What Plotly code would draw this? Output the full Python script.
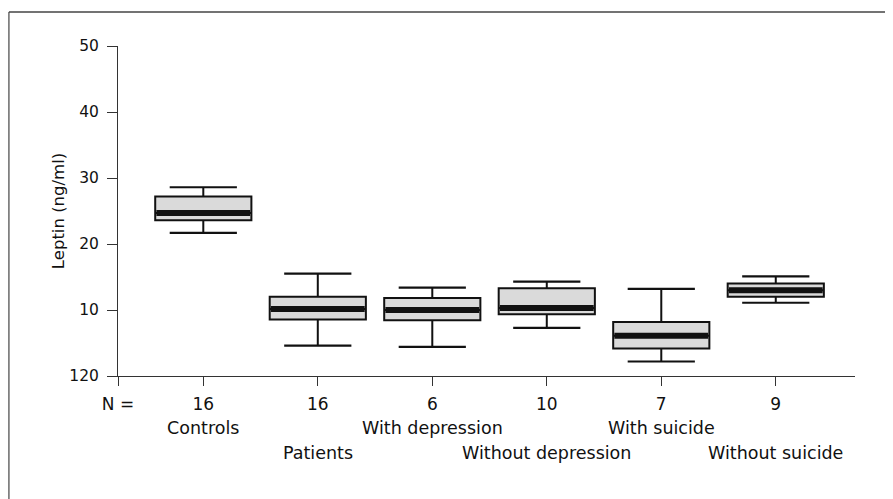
import plotly.graph_objects as go

# ---- data ----
categories = ["Controls", "Patients", "With depression", "Without depression", "With suicide", "Without suicide"]
n_values = ["16", "16", "6", "10", "7", "9"]
upper_whisker = [28.6, 15.5, 13.4, 14.3, 13.2, 15.1]
q3_values = [27.2, 12.0, 11.8, 13.3, 8.2, 14.0]
median_values = [24.7, 10.15, 10.0, 10.3, 6.1, 13.0]
q1_values = [23.6, 8.55, 8.45, 9.35, 4.15, 12.0]
lower_whisker = [21.7, 4.6, 4.4, 7.3, 2.2, 11.1]
y_tick_values = [0, 10, 20, 30, 40, 50]
y_tick_labels = ["120", "10", "20", "30", "40", "50"]

positions = list(range(len(categories)))
font_family = "DejaVu Sans"
ink = "#111111"

fig = go.Figure()

fig.add_trace(go.Box(
    x=positions,
    q1=q1_values, median=median_values, q3=q3_values,
    lowerfence=lower_whisker, upperfence=upper_whisker,
    width=0.84,
    fillcolor="#dadada",
    line=dict(color=ink, width=2),
    whiskerwidth=0,
    boxpoints=False,
    hoverinfo="skip",
    showlegend=False,
))

# whisker caps (line-ew marker length = 1.4 * size)
for vals in (upper_whisker, lower_whisker):
    fig.add_trace(go.Scatter(
        x=positions, y=vals, mode="markers",
        marker=dict(symbol="line-ew", size=48, line=dict(color=ink, width=2.2)),
        hoverinfo="skip", showlegend=False,
    ))

# thick median bands
fig.add_trace(go.Scatter(
    x=positions, y=median_values, mode="markers",
    marker=dict(symbol="line-ew", size=67, line=dict(color=ink, width=6)),
    hoverinfo="skip", showlegend=False,
))

x_min, x_max = -0.745, 5.692

# category names in two staggered rows
for i, name in enumerate(categories):
    fig.add_annotation(
        x=positions[i], y=-0.158 if i % 2 == 0 else -0.233,
        xref="x", yref="paper", text=name, showarrow=False,
        xanchor="center", yanchor="middle",
        font=dict(family=font_family, size=17.5, color=ink),
    )

fig.update_layout(
    width=893, height=499,
    margin=dict(l=110, r=46, t=38, b=131),
    paper_bgcolor="white", plot_bgcolor="white",
    font=dict(family=font_family, color=ink),
    xaxis=dict(
        range=[x_min, x_max],
        tickmode="array",
        tickvals=[x_min] + positions,
        ticktext=["N ="] + n_values,
        ticks="outside", ticklen=9, tickwidth=1, tickcolor="#333",
        showline=True, linecolor="#333", linewidth=1,
        showgrid=False, zeroline=False,
        tickfont=dict(family=font_family, size=17, color=ink),
        ticklabelstandoff=4,
    ),
    yaxis=dict(
        range=[0, 50],
        tickmode="array", tickvals=y_tick_values, ticktext=y_tick_labels,
        ticks="outside", ticklen=10, tickwidth=1, tickcolor="#333",
        showline=True, linecolor="#333", linewidth=1,
        showgrid=False, zeroline=False,
        tickfont=dict(family=font_family, size=15.5, color=ink),
        ticklabelstandoff=5,
        title=dict(text="Leptin (ng/ml)", standoff=0,
                   font=dict(family=font_family, size=16.5, color=ink)),
    ),
    shapes=[
        dict(type="line", xref="paper", yref="paper",
             x0=-0.148, x1=1.2, y0=1.103, y1=1.103,
             line=dict(color="#444", width=1.5)),
        dict(type="line", xref="paper", yref="paper",
             x0=-0.148, x1=-0.148, y0=1.103, y1=-0.45,
             line=dict(color="#444", width=1.2)),
    ],
)

fig.write_html("out.html")
